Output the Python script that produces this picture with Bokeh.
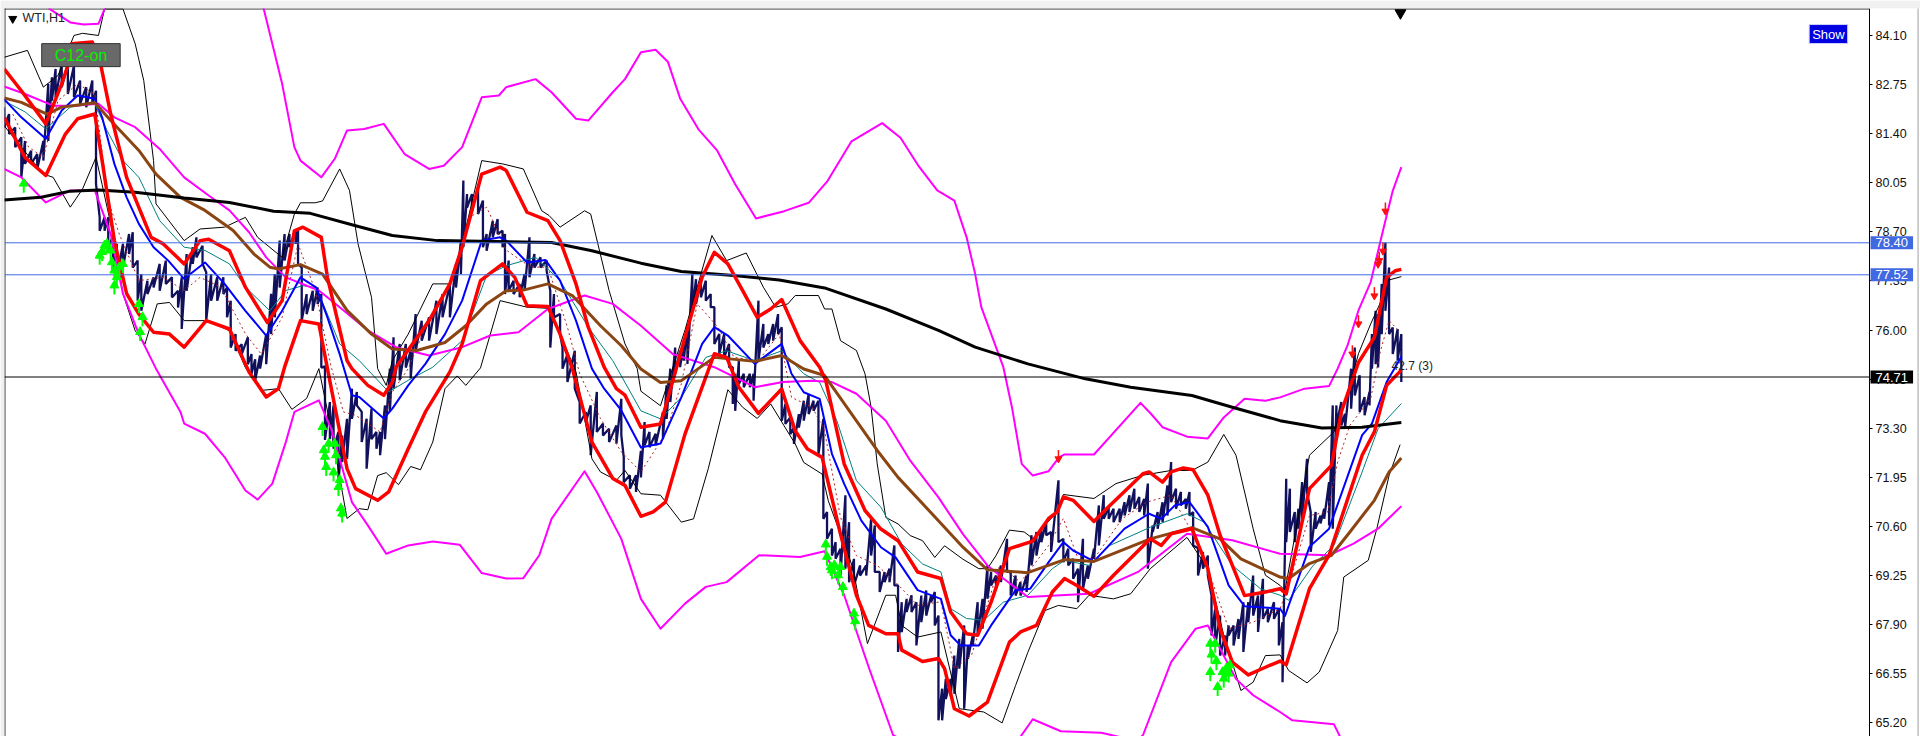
from bokeh.plotting import figure
from bokeh.models import Range1d, FixedTicker, PrintfTickFormatter, Label
from bokeh.embed import file_html
from bokeh.resources import INLINE
import math

# ---- chart values (x = bar position, y = price) ----
tick_prices = [65.20, 66.55, 67.90, 69.25, 70.60, 71.95, 73.30, 74.65, 76.00, 77.35, 78.70, 80.05, 81.40, 82.75, 84.10]
level_lines = [78.40, 77.52]
last_price = 74.71

bar_x = [3,7,12,17,20,25,30,35,39,42,45,50,55,60,65,70,75,78,81,85,88,92,95,100,105,108,112,115,120,125,130,135,140,145,148,152,157,160,165,168,172,177,182,185,188,192,197,202,205,208,212,217,221,224,228,232,236,241,243,246,250,255,259,262,265,269,272,276,279,283,287,291,295,299,303,307,310,314,318,321,326,331,335,339,344,350,356,361,367,372,376,378,381,385,390,394,397,402,406,410,412,415,419,424,428,432,436,441,446,449,452,457,459,463,469,473,478,482,487,492,497,503,507,509,514,519,523,
526,530,535,541,544,547,551,555,558,561,565,568,572,576,580,583,587,591,595,598,600,603,607,612,615,619,623,627,631,635,638,641,645,648,652,656,660,664,668,672,675,679,682,686,690,693,697,702,707,711,714,718,722,726,730,733,736,740,744,748,752,756,760,763,766,769,772,776,779,783,787,790,794,798,802,806,809,813,817,822,825,829,833,838,842,846,850,854,858,864,868,872,876,880,884,888,893,897,901,905,909,914,918,922,926,930,934,937,941,945,949,953,956,960,964,968,971,974,978,982,986,989,992,996,1000,1003,1007,1011,1015,1019,1023,1027,1031,1035,1040,1044,
1047,1050,1053,1057,1060,1063,1067,1070,1074,1078,1081,1085,1088,1091,1095,1098,1103,1106,1110,1114,1118,1120,1123,1125,1128,1131,1134,1137,1141,1144]
bar_high = [82.13,81.94,81.57,81.3,81.2,80.93,80.84,81.2,82.77,82.95,83.18,83.32,83.32,83.27,82.86,82.68,82.86,82.58,79.1,79.1,79.1,78.64,78.37,78.37,78.64,78.69,77.91,77.54,77.36,77.45,77.82,77.91,77.45,77.08,77.45,78.09,78.28,78.55,78.32,77.59,77.54,77.45,77.45,77.17,76.81,75.89,75.61,75.8,75.34,75.2,75.3,75.89,77.0,77.54,78.46,78.64,78.64,78.73,78.73,77.72,76.99,77.08,77.17,76.99,75.0,74.02,73.93,73.2,73.1,73.56,74.39,74.3,73.75,73.56,73.84,73.2,73.2,73.93,74.94,75.8,75.62,75.62,75.43,76.44,76.26,76.35,76.81,76.99,77.27,77.82,78.46,80.11,79.74,79.74,79.92,79.56,78.64,79.0,79.05,78.73,78.64,77.91,77.36,77.27,77.54,78.55,78.09,78.0,77.91,77.08,76.99,76.44,75.52,75.34,75.43,74.02,73.75,73.93,74.3,73.43,73.29,73.38,74.11,72.51,72.01,72.01,72.68,
73.47,73.2,73.15,73.75,74.48,74.94,75.52,75.43,75.62,76.17,77.54,77.4,77.36,77.36,76.99,76.63,75.89,75.89,75.62,74.98,74.8,75.16,74.8,74.8,74.8,76.81,76.17,75.89,76.17,76.44,76.08,73.97,73.6,73.32,73.69,74.06,74.24,74.06,74.06,73.56,71.0,70.54,70.17,69.99,71.46,70.72,69.71,69.53,69.53,70.81,70.63,69.35,69.35,69.44,70.08,68.98,68.52,68.61,68.71,68.52,68.7,68.84,68.7,68.8,68.15,66.14,66.41,66.41,67.05,67.51,67.88,67.33,67.6,68.52,68.61,69.53,69.35,69.25,69.53,70.26,69.35,69.25,69.07,69.25,70.36,70.45,70.54,70.72,70.45,71.87,70.26,69.99,69.71,69.44,70.26,69.53,69.99,71.18,71.46,71.13,71.09,71.09,71.27,71.46,71.64,71.41,71.36,71.78,70.63,71.0,71.27,71.73,72.37,71.64,71.55,71.36,71.55,71.0,70.0,69.9,69.8,68.7,68.34,68.15,67.6,67.88,67.88,68.06,68.52,68.52,69.25,68.7,69.16,68.34,68.52,68.34,
67.97,71.91,71.64,71.0,71.09,71.82,72.46,71.0,71.0,70.9,71.09,71.82,73.93,73.93,74.02,73.7,74.94,75.52,74.76,74.16,74.3,75.89,76.53,76.44,77.27,78.41,77.72,76.07,76.03,75.89]
bar_low = [81.57,81.39,81.03,80.2,80.57,80.57,80.43,80.66,81.2,82.31,82.4,82.68,82.49,82.4,82.22,82.13,82.22,80.02,78.73,78.73,78.18,77.72,77.45,77.72,78.09,77.72,76.81,76.53,76.99,77.17,77.08,77.27,76.9,76.62,76.03,77.08,77.82,78.0,77.82,76.26,76.81,76.81,76.99,76.35,75.52,75.43,75.34,75.06,74.8,74.62,74.94,75.06,75.89,76.35,77.17,77.91,78.28,78.37,77.82,76.26,76.44,76.53,76.72,74.97,72.98,73.0,72.74,71.82,72.37,72.46,73.56,73.93,72.92,72.19,73.0,72.74,72.56,73.0,73.75,74.39,74.62,74.97,74.67,75.43,75.71,75.71,75.89,76.35,76.35,77.17,77.54,78.28,79.37,79.28,79.19,78.28,78.18,78.55,78.64,78.28,76.99,77.08,76.99,76.9,77.08,77.45,77.72,77.72,77.63,75.52,76.35,75.89,74.94,74.57,74.39,73.43,73.47,72.56,73.2,73.1,72.92,72.88,73.11,71.82,71.64,71.55,71.95,
72.83,72.78,72.83,73.0,73.56,74.02,74.8,74.98,75.16,75.07,76.53,76.72,76.9,76.81,76.63,75.62,75.34,75.25,74.98,73.97,73.78,74.52,74.43,74.43,74.06,75.16,75.52,75.62,75.71,75.89,73.51,73.42,73.14,72.87,73.32,73.51,73.69,73.78,72.59,70.81,70.26,69.8,69.71,69.25,69.44,69.07,68.98,69.25,69.25,69.8,69.35,68.8,69.07,69.07,68.98,67.15,67.7,68.25,68.25,67.33,67.97,68.15,68.52,67.88,65.27,65.27,65.86,65.95,66.0,66.69,65.59,66.96,67.33,67.6,67.79,68.61,68.98,68.89,69.07,69.35,68.7,68.7,68.7,68.8,69.53,69.8,70.17,70.36,69.9,70.17,69.62,69.53,69.16,68.52,68.89,69.16,69.71,70.08,70.81,70.81,70.72,70.72,70.9,71.0,71.09,71.0,70.9,69.44,70.45,70.54,70.72,70.9,71.27,71.09,71.18,71.09,70.9,70.08,69.25,69.44,69.25,67.6,67.33,67.05,67.05,67.6,67.33,67.51,67.15,67.97,68.15,67.7,68.06,67.97,68.06,67.33,
66.32,70.17,70.45,70.17,70.54,70.81,71.55,69.9,70.54,70.68,70.81,70.63,70.54,73.38,73.38,73.29,73.84,74.2,73.75,73.66,73.93,74.94,75.06,74.97,75.89,76.53,75.89,75.34,75.16,74.57]

upper_x = [38,40,57,68,80,85,88,210,215,230,240,245,262,273,283,297,313,330,350,362,377,393,407,413,437,450,470,480,500,510,523,535,545,555,570,585,600,617,640,660,675,695,720,735,750,765,779,789,796,801,819,826,834,843,856,864.5,869,893,931,939.5,949,969,986,999,1016,1033,1045,1065,1085,1092,1100,1109,1119,1129,1137,1144]
upper_y = [85.2,84.83,84.46,84.40,84.42,84.83,85.6,85.6,84.83,82.77,81.03,80.66,80.20,80.71,81.49,81.53,81.67,80.84,80.43,80.52,81.03,82.40,82.45,82.68,82.90,82.54,81.81,81.76,82.54,82.90,83.64,83.71,83.38,82.37,81.52,80.95,80.01,79.07,79.27,79.5,80.08,81.19,81.69,81.29,80.5,79.84,79.56,78.55,77.54,76.63,74.98,73.88,72.32,72.0,72.12,72.5,72.58,72.58,74.0,73.7,73.33,73.07,73.02,73.6,74.11,74.06,74.15,74.39,74.46,74.94,75.57,76.54,77.32,78.73,79.83,80.48]

middle_x = [3,20,43,60,80,93,110,130,150,170,187,203,217,233,260,277,300,323,350,377,400,423,447,477,500,523,549,583,616,639,663,679,699,723,743,766,786,806,819,839,889,929,969,1006,1045,1085,1105,1125,1144]
middle_y = [82.70,82.49,82.17,82.17,82.22,81.85,81.58,80.98,80.2,79.70,79.29,78.69,78.0,77.45,77.09,76.63,75.99,75.53,75.30,75.53,75.85,75.94,76.58,76.95,76.72,76.12,75.34,74.98,74.43,74.57,74.61,74.57,74.25,73.51,72.41,71.40,70.39,69.53,69.17,68.66,68.75,69.35,70.40,70.22,69.85,69.81,70.13,70.54,71.16]

lower_x = [3,17,37,57,77,90,100,113,127,147,150,167,183,200,210,222,233,240,260,270,287,300,315,333,353,375,393,413,427,440,450,477,487,507,523,539,559,576,593,619.5,653,673,689,709.5,729,780,820,833,843,866,899,913,920,933,956,976,986,1009,1023,1045,1055,1089,1094,1144]
lower_y = [80.43,80.2,79.51,79.84,79.84,78.64,77.0,75.89,74.94,73.75,73.43,73.15,72.51,71.59,71.34,71.78,72.92,73.75,74.07,73.29,71.27,70.63,69.85,70.08,70.19,70.10,69.32,69.17,69.18,69.81,70.81,72.12,71.55,70.26,68.61,67.79,68.48,68.94,69.07,69.81,69.76,69.92,68.71,66.69,64.86,64.0,64.2,64.82,65.30,64.97,64.93,64.82,64.5,64.86,66.87,67.79,67.88,66.41,65.96,65.5,65.27,65.16,64.82,63.5]

long_ma_x = [3,33,57,80,110,150,187,223,253,290,320,357,450,483,523,556,599,636,673,723,766,796,839,886,923,973,1006,1045,1079,1112,1144]
long_ma_y = [79.58,79.65,79.82,79.85,79.79,79.63,79.51,79.27,79.21,78.87,78.60,78.46,78.41,78.18,77.84,77.61,77.50,77.38,77.16,76.58,75.99,75.53,75.07,74.66,74.43,74.20,73.88,73.51,73.31,73.33,73.46]

brown_x = [3,17,38,50,77,90,113,127,147,167,190,207,220,227,245,263,283,303,320,340,363,380,397,413,427,447,467,490,507,523,539,556,583,616,638,656,673,693,716,733,766,786,806,839,869,893,939,973,996,1013,1045,1052,1069,1087,1102,1122,1134,1144]
brown_y = [82.38,82.26,81.94,82.13,82.25,81.76,80.94,80.29,79.65,79.29,78.74,78.09,77.73,77.68,77.80,77.54,76.54,75.89,75.48,75.44,75.66,76.12,76.72,77.08,77.10,77.27,76.95,76.12,75.57,74.93,74.56,74.61,75.25,75.14,75.30,74.93,74.75,73.79,72.69,71.95,70.76,70.03,69.41,69.33,69.69,69.64,70.26,70.57,70.26,69.71,69.21,69.17,69.58,69.81,70.45,71.32,72.1,72.48]

red_up_x = [3,17,37,50,55,58,75,82,90,103,123,133,150,163,170,187,200,218,230,240,247,262,267,283,287,300,313,320,323,350,367,377,393,408,413,430,447,457,470,480,493,503,510,523,539,543,559,573,583,594,606,618,629,638,653,669,674,689,706,719,733,749,768,776,789,798,809,824,843,856,863,868,876,893,906,933,938,949,956,966,974,986,996,1006,1016,1033,1045,1050,1069,1087,1095,1109,1122,1132,1139,1144]
red_up_y = [83.18,82.58,81.67,82.77,83.27,83.87,83.92,83.27,81.94,80.2,78.55,78.37,77.82,78.46,78.5,78.18,77.18,76.21,76.81,78.73,78.83,78.55,77.45,75.16,74.94,74.48,74.21,74.57,74.98,76.26,77.27,78.28,80.29,80.48,80.39,79.24,79.01,78.46,77.27,76.08,74.98,74.39,74.21,73.33,73.42,73.88,75.80,77.45,78.14,77.82,77.09,76.35,76.58,76.84,75.71,74.98,74.61,72.32,71.04,70.53,70.21,69.35,69.17,68.25,67.65,67.61,68.52,69.99,70.2,70.82,71.0,71.41,71.32,70.74,71.18,72.05,72.10,71.82,72.10,72.21,72.16,71.46,70.36,69.53,68.70,68.8,68.89,68.75,71.64,72.28,73.75,75.11,75.80,77.45,77.63,77.67]

red_low_x = [3,20,37,53,63,77,83,93,103,113,125,138,150,168,187,200,203,217,227,232,245,260,267,283,290,308,317,333,347,367,377,392,410,420,430,447,457,467,483,500,510,523,533,543,559,573,583,593,603,619,638,649,659,671,686,699,709,723,733,736,753,766,771,779,791,806,824,833,846,859,869,879,893,909,939,948,956,973,986,996,1006,1019,1033,1045,1050,1069,1085,1112,1122,1132,1144]
red_low_y = [81.85,80.75,80.25,81.39,81.81,81.94,80.66,78.46,77.0,76.44,75.94,75.89,75.53,76.26,76.03,75.07,74.85,74.16,74.39,74.98,76.26,76.17,74.94,72.19,71.64,71.32,71.55,72.74,73.75,74.85,75.62,77.36,77.82,77.45,76.67,76.65,75.89,74.94,72.92,71.92,71.73,70.88,71.0,71.27,73.14,74.43,75.35,75.25,74.43,73.71,74.38,73.23,72.73,72.5,70.39,68.71,67.88,67.65,67.65,67.2,66.89,66.97,66.69,65.59,65.39,65.77,67.42,67.7,67.88,68.8,69.17,68.98,68.68,69.26,70.26,70.08,70.4,70.54,69.44,67.79,66.87,66.52,66.73,66.9,66.80,68.89,69.81,72.56,73.20,74.48,74.9]

blue_x = [3,17,37,50,63,77,83,93,103,113,125,137,150,167,183,200,217,230,245,258,267,277,287,293,313,320,333,347,363,377,393,408,413,430,445,457,470,483,493,507,523,539,556,573,583,594,616,638,646,656,669,679,689,703,719,731,749,768,776,784,799,809,829,841,856,868,876,893,918,938,948,959,971,986,1003,1016,1045,1049,1069,1085,1112,1120,1132,1144]
blue_y = [82.35,81.85,81.26,82.04,82.45,82.36,81.85,80.57,79.65,78.92,78.28,77.91,77.41,77.86,77.27,76.53,75.85,76.53,77.45,77.17,76.35,75.34,74.21,74.16,73.57,73.84,74.48,75.07,75.89,76.81,78.46,78.55,78.46,77.86,77.93,77.36,76.26,74.94,74.39,73.79,72.77,72.88,74.15,75.62,76.08,75.85,75.07,75.62,74.8,74.29,74.11,72.6,71.77,70.76,70.03,69.75,68.85,68.61,67.61,67.33,67.33,67.88,68.85,68.89,69.62,70.17,69.94,69.64,70.54,70.95,70.81,71.18,71.27,70.59,68.98,68.41,68.34,68.14,70.04,70.54,73.11,73.43,74.57,75.27]

teal_x = [3,20,37,57,77,87,100,113,130,150,167,187,200,220,233,247,258,277,293,317,333,353,377,397,413,437,457,480,500,523,539,556,576,593,616,638,656,669,683,699,719,736,753,768,776,789,803,819,839,859,869,889,906,939,969,983,1006,1029,1045,1052,1072,1089,1112,1125,1144]
teal_y = [82.3,82.0,81.53,82.13,82.22,81.49,80.66,80.2,79.01,78.28,78.19,77.82,77.18,76.53,77.09,77.22,77.17,75.62,75.16,74.30,74.62,74.98,75.71,77.50,77.77,78.0,77.36,76.08,75.16,73.78,73.56,74.15,75.25,75.43,75.16,75.43,74.8,74.56,73.51,71.86,71.13,70.12,69.57,69.35,68.34,68.07,68.02,68.52,68.71,69.44,69.67,69.53,70.08,70.58,70.95,70.72,69.53,68.89,68.71,68.57,69.53,70.08,72.1,73.29,73.98]

dash_x = [10,23,35,47,63,77,88,97,113,133,150,163,180,200,213,230,243,257,270,280,290,310,320,333,347,367,383,397,413,433,447,463,473,490,507,523,543,556,569,586,599,619,636,646,663,673,686,699,716,731,749,768,779,793,816,833,856,868,879,893,916,936,956,973,986,1003,1023,1045,1052,1069,1084,1092,1102,1119,1127,1134,1142]
dash_y = [81.94,81.03,80.75,82.31,82.77,82.49,79.56,78.64,77.36,77.45,77.09,77.45,77.18,75.9,75.34,76.35,78.37,77.09,75.0,73.75,73.66,73.2,74.3,74.94,76.08,77.27,79.1,79.38,78.2,77.73,77.73,76.08,74.8,73.57,72.65,72.1,73.15,74.52,76.72,76.08,75.25,75.16,75.9,74.15,73.88,73.23,70.85,69.8,69.53,69.07,68.43,68.53,66.69,67.06,69.53,69.07,70.08,70.82,69.8,69.71,70.81,71.27,71.46,70.45,69.44,67.79,67.97,68.34,68.98,70.9,71.0,72.37,73.38,74.12,75.43,76.26,75.98]

thin_up_x = [3,22,35,47,60,67,80,85,100,110,117,125,127,150,163,183,200,210,230,240,245,257,263,277,285,292,303,308,315,320,333,353,367,377,393,410,427,442,448,457,477,482,497,510,520,523,539,543,559,581,593,609,623,633,643,649,668,673,679,686,699,706,711,716,723,733,743,753,763,771,786,799,806,813,824,836,843,863,868,893,911,933,956,973,986,999,1009,1023,1033,1045,1049,1069,1089,1102,1109,1119,1127,1132,1144]
thin_up_y = [83.5,83.69,82.68,83.0,84.1,84.16,84.1,84.83,84.83,83.87,82.86,80.66,79.47,78.46,78.78,78.83,79.1,78.55,78.0,79.19,79.5,79.5,79.55,80.43,79.84,78.37,76.9,74.94,74.48,75.16,75.89,77.27,77.27,78.37,80.66,80.57,80.43,79.28,79.15,78.83,79.28,79.19,77.09,75.62,74.94,74.32,73.92,74.34,76.0,78.6,77.91,78.12,77.18,76.63,76.72,76.95,76.95,76.58,76.58,75.71,75.44,74.8,73.88,72.32,70.85,70.67,70.35,70.21,69.75,70.07,69.7,69.44,69.44,69.8,70.5,70.45,70.27,71.0,71.48,71.37,71.78,72.01,72.14,72.14,72.37,73.13,72.56,70.54,69.26,68.98,68.84,72.56,73.2,74.48,75.35,76.17,76.76,77.36,77.47]

thin_low_x = [3,17,35,43,57,67,78,83,93,100,110,118,128,138,150,170,187,200,213,227,238,250,260,270,283,293,300,308,315,325,335,343,353,363,373,380,392,408,430,447,457,470,483,490,503,510,523,539,556,566,578,594,606,618,629,649,656,671,676,686,696,708,723,731,736,749,768,783,803,818,829,839,853,864,879,889,909,923,939,969,986,999,1013,1023,1033,1045,1052,1067,1077,1092,1097,1117,1124,1134,1143]
thin_low_y = [81.62,81.03,80.29,80.2,79.38,79.88,80.75,80.0,78.46,77.0,75.98,75.62,76.72,76.76,76.26,76.26,75.98,74.97,74.34,74.39,73.82,74.12,74.94,73.29,70.82,71.09,71.06,72.0,72.08,71.75,72.25,72.16,72.92,74.39,74.74,74.48,74.96,76.81,76.63,76.6,75.89,74.85,72.46,72.1,71.87,72.14,71.5,71.46,70.72,70.81,72.19,74.36,73.88,73.57,73.97,72.87,72.36,72.04,71.31,70.39,69.48,67.38,68.71,68.71,67.88,67.56,67.70,65.59,65.5,65.2,66.23,67.14,68.29,68.43,68.34,68.71,68.61,68.75,69.44,70.3,69.44,67.61,66.09,66.32,67.05,67.07,66.64,66.3,66.6,67.74,69.21,69.67,70.54,72.0,72.85]

buy_x = [19,83,85,87,90,81,91,100,97,93,95,93,113,116,114,263,268,273,264,265,274,266,272,277,276,278,279,674,675,678,681,686,679,684,688,697,698,988,992,989,993,988,1004,1001,998,1003,999,994]
buy_y = [79.93,78.05,78.23,78.28,78.09,77.95,77.77,77.72,77.63,77.54,77.36,77.13,76.62,76.26,75.85,73.24,72.78,72.78,72.6,72.42,72.46,72.14,71.99,71.78,71.59,71.0,70.86,70.01,69.67,69.39,69.44,69.39,69.3,69.16,68.84,68.11,67.9,67.28,67.28,66.98,66.8,66.5,66.69,66.6,66.5,66.46,66.32,66.09]
sell_x = [864,1131,1129,1126,1125,1122,1109,1104]
sell_y = [72.55,79.36,78.26,78.0,77.9,77.03,76.26,75.43]

# ---- figure: the plotting frame reaches the page edge so the price tags can sit over the axis ----
axis_bar = 1526.3
left_bar = 3.6
top_price = 84.83

p = figure(width=1920, height=736, output_backend="svg", toolbar_location=None,
           x_range=Range1d(3.27, 1568.0), y_range=Range1d(64.826, 84.842),
           y_axis_location="right", min_border_left=4, min_border_right=0,
           min_border_top=8, min_border_bottom=0)
p.xaxis.visible = False
p.xgrid.visible = False
p.ygrid.visible = False
p.outline_line_color = None
p.border_fill_color = "#f0f0f0"
ax = p.yaxis[0]
ax.fixed_location = axis_bar
ax.ticker = FixedTicker(ticks=tick_prices)
ax.formatter = PrintfTickFormatter(format="%.2f")
ax.major_label_text_font = "Liberation Sans"
ax.major_label_text_font_size = "12.5px"
ax.major_label_text_color = "#111111"
ax.major_label_standoff = 3
ax.major_tick_out = 3
ax.major_tick_in = 0
ax.minor_tick_out = 0
ax.minor_tick_in = 0
ax.axis_line_color = "black"
ax.major_tick_line_color = "black"

# frame edges and window edge
p.segment([3.27], [top_price], [axis_bar], [top_price], line_color="black", line_width=1)
p.segment([left_bar], [64.0], [left_bar], [85.0], line_color="black", line_width=1)
p.segment([1566.0], [64.0], [1566.0], [85.0], line_color="#a0a0a0", line_width=1)

# price bars as a connected high/low trace
zx, zy = [], []
for x, h, l in zip(bar_x, bar_high, bar_low):
    zx += [x, x]
    zy += [h, l]
p.line(zx, zy, line_color="#10105c", line_width=2.3)

p.line(thin_up_x, thin_up_y, line_color="black", line_width=1)
p.line(thin_low_x, thin_low_y, line_color="black", line_width=1)
p.line(dash_x, dash_y, line_color="#b22222", line_width=1, line_dash="2 3")
p.line(teal_x, teal_y, line_color="#008080", line_width=1)
p.line(upper_x, upper_y, line_color="#ff00ff", line_width=2, line_join="round")
p.line(middle_x, middle_y, line_color="#ff00ff", line_width=2, line_join="round")
p.line(lower_x, lower_y, line_color="#ff00ff", line_width=2, line_join="round")
p.line(blue_x, blue_y, line_color="#0000ff", line_width=2, line_join="round")
p.line(brown_x, brown_y, line_color="#8b4513", line_width=3, line_join="round")
p.line(long_ma_x, long_ma_y, line_color="black", line_width=3, line_join="round")
p.line(red_up_x, red_up_y, line_color="#ff0000", line_width=3.5, line_join="round")
p.line(red_low_x, red_low_y, line_color="#ff0000", line_width=3.5, line_join="round")

# horizontal levels stop at the axis
for lv in level_lines:
    p.segment([3.27], [lv], [axis_bar], [lv], line_color="#4169e1", line_width=1)
p.segment([3.27], [last_price], [axis_bar], [last_price], line_color="black", line_width=1)

# signal arrows
p.scatter(buy_x, buy_y, marker="dash", angle=math.pi / 2, size=11, line_color="#00ff00", line_width=2)
p.scatter(buy_x, [v + 0.1 for v in buy_y], marker="triangle", size=9, fill_color="#00ff00", line_color="#00ff00")
p.scatter(sell_x, sell_y, marker="dash", angle=math.pi / 2, size=11, line_color="#ff1010", line_width=1.5)
p.scatter(sell_x, [v - 0.09 for v in sell_y], marker="inverted_triangle", size=7, fill_color="#ff1010", line_color="#ff1010")

# chart markers
p.scatter([10], [84.56], marker="inverted_triangle", size=8, fill_color="black", line_color="black")
p.scatter([1143.3], [84.72], marker="inverted_triangle", size=11, fill_color="black", line_color="black")

def tag(text, price, bg, fg):
    p.add_layout(Label(x=1527.2, y=price, text=text,
                       text_font="Liberation Sans", text_font_size="13px", text_color=fg,
                       text_baseline="middle", text_align="left",
                       background_fill_color=bg, padding=(5, 2)))

tag("78.40", level_lines[0], "#4169e1", "white")
tag("77.52", level_lines[1], "#4169e1", "white")
tag("74.71", last_price, "black", "white")

p.add_layout(Label(x=18, y=84.57, text="WTI,H1", text_font="Liberation Sans", text_font_size="12.5px",
                   text_color="#222222", text_baseline="middle"))
p.add_layout(Label(x=65.7, y=83.56, text="C12-on", text_font="Liberation Sans", text_font_size="16px",
                   text_color="#00f000", text_baseline="middle", text_align="center",
                   background_fill_color="#696969", border_line_color="#333333", padding=(13, 3)))
p.add_layout(Label(x=1492.8, y=84.14, text="Show", text_font="Liberation Sans", text_font_size="13px",
                   text_color="white", text_baseline="middle", text_align="center",
                   background_fill_color="#0000e0", border_line_color="#d0d0ff", padding=(3, 2)))
p.add_layout(Label(x=1136, y=75.0, text="42.7 (3)", text_font="Liberation Sans", text_font_size="12px",
                   text_color="#222222", text_baseline="middle"))

open("out.html", "w").write(file_html(p, INLINE))
